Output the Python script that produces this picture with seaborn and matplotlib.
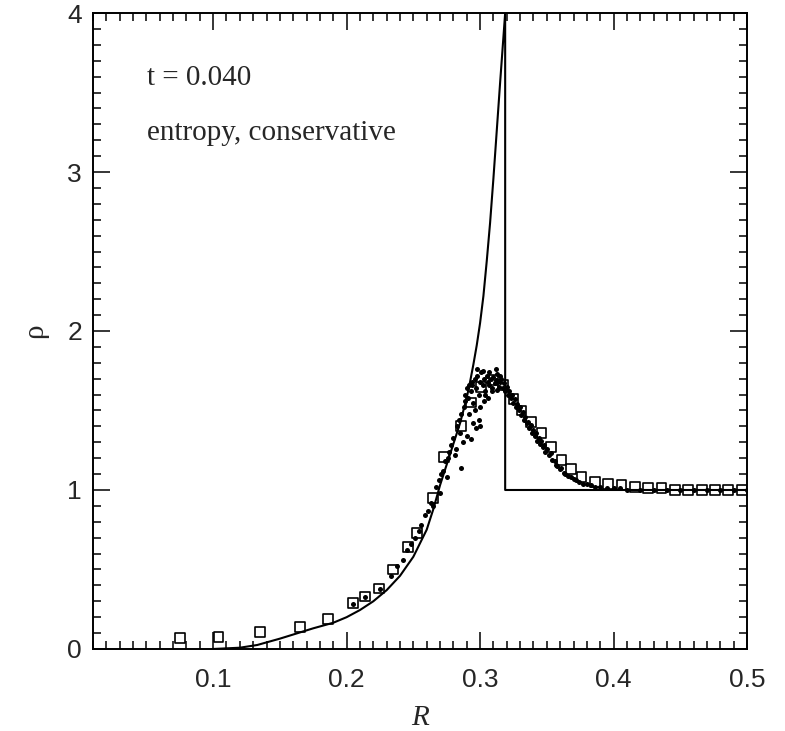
import numpy as np
import pandas as pd
import matplotlib
matplotlib.use("Agg")
import matplotlib.pyplot as plt
import seaborn as sns
from matplotlib.ticker import MultipleLocator

# ---- analytic solution (solid line) ----
exact_r = [0.100, 0.120, 0.133, 0.150, 0.175, 0.190, 0.200, 0.210, 0.220, 0.230,
           0.240, 0.250, 0.260, 0.265, 0.270, 0.275, 0.280, 0.285, 0.290, 0.2925,
           0.295, 0.2975, 0.300, 0.3025, 0.305, 0.3075, 0.310, 0.3125, 0.315,
           0.3188, 0.3188, 0.500]
exact_rho = [0.000, 0.008, 0.025, 0.065, 0.130, 0.165, 0.200, 0.245, 0.300, 0.370,
             0.460, 0.580, 0.750, 0.880, 1.030, 1.160, 1.290, 1.420, 1.580, 1.680,
             1.790, 1.910, 2.050, 2.220, 2.440, 2.680, 2.960, 3.260, 3.560,
             4.000, 1.000, 1.000]

# ---- binned averages (open squares) ----
sq_r = [0.075, 0.104, 0.135, 0.165, 0.186, 0.2045, 0.214, 0.224, 0.235, 0.246,
        0.253, 0.265, 0.273, 0.286, 0.293, 0.301, 0.310, 0.317, 0.325, 0.331,
        0.338, 0.346, 0.353, 0.361, 0.368, 0.376, 0.386, 0.396, 0.406, 0.416,
        0.426, 0.436, 0.446, 0.456, 0.466, 0.476, 0.486, 0.496]
sq_rho = [0.07, 0.075, 0.105, 0.14, 0.19, 0.29, 0.33, 0.38, 0.50, 0.64,
          0.73, 0.95, 1.21, 1.40, 1.55, 1.65, 1.69, 1.66, 1.57, 1.50,
          1.43, 1.36, 1.27, 1.19, 1.13, 1.08, 1.05, 1.04, 1.03, 1.02,
          1.01, 1.01, 1.00, 1.00, 1.00, 1.00, 1.00, 1.00]

# ---- particle values (small dots) ----
dot_r = [0.205, 0.214, 0.225, 0.233, 0.238, 0.242, 0.245, 0.248, 0.251, 0.254,
         0.256, 0.259, 0.261, 0.263, 0.265, 0.267, 0.269, 0.270, 0.272, 0.274,
         0.275, 0.277, 0.278, 0.280, 0.281, 0.283, 0.284, 0.285, 0.286, 0.287,
         0.288, 0.289, 0.271, 0.286, 0.290, 0.293, 0.297, 0.300, 0.276, 0.282,
         0.289, 0.290, 0.291, 0.292, 0.293, 0.294, 0.295, 0.296, 0.297, 0.298,
         0.299, 0.300, 0.301, 0.302, 0.303, 0.304, 0.305, 0.306, 0.307, 0.308,
         0.309, 0.310, 0.311, 0.312, 0.313, 0.314, 0.315, 0.316, 0.317, 0.318,
         0.319, 0.320, 0.321, 0.322, 0.298, 0.302, 0.312, 0.307, 0.315, 0.294,
         0.292, 0.296, 0.300, 0.303, 0.306, 0.295, 0.299, 0.309, 0.313, 0.304,
         0.323, 0.324, 0.325, 0.326, 0.327, 0.328, 0.329, 0.330, 0.331, 0.332,
         0.333, 0.334, 0.335, 0.336, 0.337, 0.338, 0.339, 0.340, 0.341, 0.342,
         0.343, 0.344, 0.345, 0.346, 0.347, 0.348, 0.349, 0.350, 0.352, 0.353,
         0.354, 0.356, 0.357, 0.358, 0.360, 0.361, 0.363, 0.364, 0.366, 0.368,
         0.370, 0.372, 0.374, 0.377, 0.380, 0.383, 0.386, 0.390, 0.395, 0.400,
         0.405, 0.410, 0.420, 0.430, 0.440, 0.450, 0.460, 0.470, 0.480, 0.490, 0.500]
dot_rho = [0.28, 0.33, 0.38, 0.46, 0.52, 0.56, 0.62, 0.66, 0.70, 0.74,
           0.78, 0.84, 0.87, 0.92, 0.90, 1.02, 1.06, 0.98, 1.12, 1.18,
           1.08, 1.24, 1.28, 1.33, 1.22, 1.40, 1.44, 1.36, 1.48, 1.30,
           1.52, 1.56, 1.10, 1.14, 1.34, 1.32, 1.39, 1.40, 1.20, 1.26,
           1.60, 1.64, 1.58, 1.66, 1.62, 1.68, 1.55, 1.70, 1.64, 1.72,
           1.60, 1.68, 1.74, 1.66, 1.70, 1.62, 1.72, 1.68, 1.66, 1.70,
           1.64, 1.71, 1.67, 1.69, 1.73, 1.65, 1.68, 1.70, 1.64, 1.67,
           1.62, 1.65, 1.60, 1.62, 1.76, 1.75, 1.76, 1.74, 1.72, 1.66,
           1.48, 1.50, 1.52, 1.56, 1.58, 1.42, 1.44, 1.62, 1.63, 1.60,
           1.58, 1.60, 1.55, 1.57, 1.52, 1.54, 1.50, 1.52, 1.47, 1.49,
           1.44, 1.46, 1.42, 1.43, 1.39, 1.41, 1.36, 1.38, 1.34, 1.36,
           1.31, 1.33, 1.29, 1.31, 1.27, 1.28, 1.24, 1.26, 1.22, 1.23,
           1.19, 1.18, 1.16, 1.15, 1.13, 1.14, 1.11, 1.10, 1.09, 1.08,
           1.07, 1.06, 1.05, 1.04, 1.04, 1.03, 1.02, 1.02, 1.01, 1.01,
           1.01, 1.00, 1.00, 1.00, 1.00, 1.00, 1.00, 1.00, 1.00, 1.00, 1.00]

x_ticks = [0.1, 0.2, 0.3, 0.4, 0.5]
x_ticklabels = ["0.1", "0.2", "0.3", "0.4", "0.5"]
y_ticks = [0, 1, 2, 3, 4]
y_ticklabels = ["0", "1", "2", "3", "4"]

sns.set_style("ticks")
plt.rcParams["font.family"] = ["Liberation Sans", "DejaVu Sans"]

fig = plt.figure(figsize=(7.85, 7.31), dpi=100)
ax = fig.add_axes([0.1185, 0.1122, 0.8331, 0.8700])

exact_df = pd.DataFrame({"R": exact_r, "rho": exact_rho})
sq_df = pd.DataFrame({"R": sq_r, "rho": sq_rho})
dot_df = pd.DataFrame({"R": dot_r, "rho": dot_rho})

sns.lineplot(data=exact_df, x="R", y="rho", sort=False, estimator=None,
             color="black", linewidth=1.5, ax=ax, zorder=2)
sns.scatterplot(data=dot_df, x="R", y="rho", color="black", s=13,
                linewidth=0, ax=ax, zorder=3)
sns.scatterplot(data=sq_df, x="R", y="rho", marker="s", s=50,
                facecolor="none", edgecolor="black", linewidth=1.2,
                ax=ax, zorder=4)

ax.set_xlim(0.01, 0.5)
ax.set_ylim(0, 4)
ax.set_xticks(x_ticks)
ax.set_xticklabels(x_ticklabels)
ax.set_yticks(y_ticks)
ax.set_yticklabels(y_ticklabels)
ax.xaxis.set_minor_locator(MultipleLocator(0.01))
ax.yaxis.set_minor_locator(MultipleLocator(0.1))
ax.tick_params(which="both", direction="in", top=True, right=True,
               color="black", width=1.1)
ax.tick_params(which="major", length=12, labelsize=19)
ax.tick_params(which="minor", length=6)
ax.tick_params(axis="x", which="major", pad=14)
ax.tick_params(axis="y", which="major", pad=8)
for sp in ax.spines.values():
    sp.set_linewidth(1.4)
    sp.set_color("black")

ax.set_xlabel("R", fontsize=21, family=["Liberation Serif", "DejaVu Serif"],
              style="italic", labelpad=9)
ax.set_ylabel("ρ", fontsize=21, family=["Liberation Serif", "DejaVu Serif"],
              labelpad=14)

ax.text(0.0504, 3.59, "t = 0.040", fontsize=21, va="center", ha="left",
        family=["Liberation Serif", "DejaVu Serif"])
ax.text(0.0504, 3.245, "entropy, conservative", fontsize=21, va="center",
        ha="left", family=["Liberation Serif", "DejaVu Serif"])

fig.savefig("out.png", dpi=100)
